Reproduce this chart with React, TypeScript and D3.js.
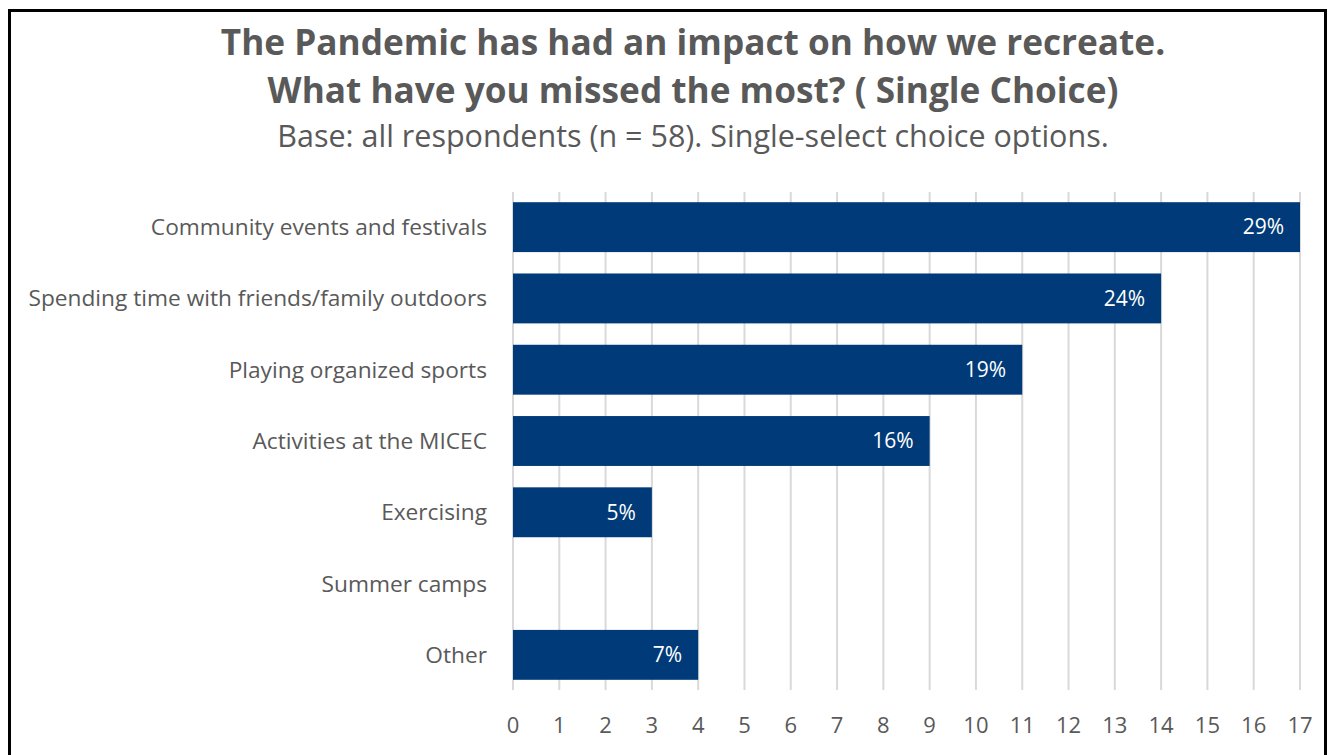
import React from "react";
import * as d3 from "d3";

const categories = [
  "Community events and festivals",
  "Spending time with friends/family outdoors",
  "Playing organized sports",
  "Activities at the MICEC",
  "Exercising",
  "Summer camps",
  "Other",
];
const counts = [17, 14, 11, 9, 3, 0, 4];
const percentLabels = ["29%", "24%", "19%", "16%", "5%", "", "7%"];
const xTicks = d3.range(0, 18);

const titleLines = [
  "The Pandemic has had an impact on how we recreate.",
  "What have you missed the most? ( Single Choice)",
];
const subtitle = "Base: all respondents (n = 58). Single-select choice options.";

export default function App() {
  const W = 1330;
  const H = 755;
  const font = "'Open Sans', 'Noto Sans', sans-serif";
  const x = d3.scaleLinear().domain([0, 17]).range([513, 1300]);
  const y = d3.scaleBand<string>().domain(categories).range([191.5, 690.5]).paddingInner(0.3).paddingOuter(0.15);
  const gridTop = 192;
  const gridBottom = 690;
  const textColor = "#595959";
  const barColor = "#003A78";

  return (
    <svg
      width={W}
      height={H}
      style={{ position: "absolute", left: 0, top: 0, background: "#fff" }}
      fontFamily={font}
    >
      <rect x={9.5} y={10.5} width={1316} height={760} fill="#fff" stroke="#000" strokeWidth={3} />
      {titleLines.map((t, i) => (
        <text
          key={i}
          x={693}
          y={55 + i * 48}
          textAnchor="middle"
          fontSize={35.2}
          fontWeight="bold"
          fill={textColor}
        >
          {t}
        </text>
      ))}
      <text x={693} y={147} textAnchor="middle" fontSize={30.5} fill={textColor}>
        {subtitle}
      </text>
      {xTicks.map((t) => (
        <line key={"g" + t} x1={x(t)} x2={x(t)} y1={gridTop} y2={gridBottom} stroke="#d9d9d9" strokeWidth={2} />
      ))}
      {categories.map((c, i) => (
        <g key={c}>
          {counts[i] > 0 && (
            <rect x={x(0)} y={y(c)} width={x(counts[i]) - x(0)} height={y.bandwidth()} fill={barColor} />
          )}
          {counts[i] > 0 && (
            <text
              x={x(counts[i]) - 16}
              y={(y(c) as number) + y.bandwidth() / 2}
              dy="0.35em"
              textAnchor="end"
              fontSize={21}
              fill="#fff"
            >
              {percentLabels[i]}
            </text>
          )}
          <text
            x={487}
            y={(y(c) as number) + y.bandwidth() / 2}
            dy="0.35em"
            textAnchor="end"
            fontSize={22.7}
            fill={textColor}
          >
            {c}
          </text>
        </g>
      ))}
      {xTicks.map((t) => (
        <text key={"t" + t} x={x(t)} y={725} dy="0.35em" textAnchor="middle" fontSize={22} fill={textColor}>
          {t}
        </text>
      ))}
    </svg>
  );
}
